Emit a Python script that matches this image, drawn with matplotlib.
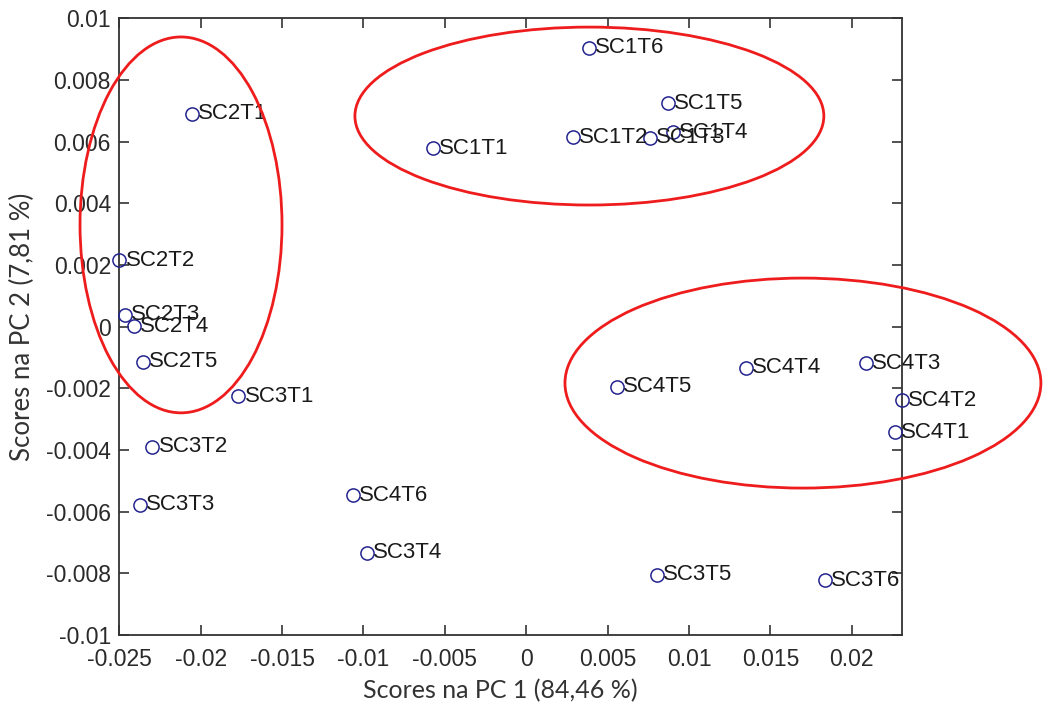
import matplotlib
matplotlib.use("Agg")
import matplotlib.pyplot as plt
from matplotlib.patches import Ellipse

# PCA scores per sample
samples = ["SC1T1", "SC1T2", "SC1T3", "SC1T4", "SC1T5", "SC1T6",
           "SC2T1", "SC2T2", "SC2T3", "SC2T4", "SC2T5",
           "SC3T1", "SC3T2", "SC3T3", "SC3T4", "SC3T5", "SC3T6",
           "SC4T1", "SC4T2", "SC4T3", "SC4T4", "SC4T5", "SC4T6"]
pc1 = [-0.00573, 0.00287, 0.00760, 0.00901, 0.00870, 0.00385,
       -0.02053, -0.02499, -0.02465, -0.02410, -0.02354,
       -0.01769, -0.02297, -0.02373, -0.00979, 0.00803, 0.01835,
       0.02265, 0.02308, 0.02087, 0.01348, 0.00559, -0.01064]
pc2 = [0.00579, 0.00615, 0.00612, 0.00631, 0.00725, 0.00904,
       0.00690, 0.00216, 0.00038, 0.00002, -0.00114,
       -0.00225, -0.00389, -0.00578, -0.00734, -0.00805, -0.00822,
       -0.00342, -0.00238, -0.00118, -0.00134, -0.00195, -0.00546]

# Group outlines: centre x, centre y, width, height (data units)
group_cx = [-0.02121, 0.00388, 0.01700]
group_cy = [0.00330, 0.00683, -0.00183]
group_w = [0.01241, 0.02881, 0.02924]
group_h = [0.01219, 0.00577, 0.00681]

x_ticks = [-0.025, -0.02, -0.015, -0.01, -0.005, 0, 0.005, 0.01, 0.015, 0.02]
x_tick_labels = ["-0.025", "-0.02", "-0.015", "-0.01", "-0.005", "0",
                 "0.005", "0.01", "0.015", "0.02"]
y_ticks = [-0.01, -0.008, -0.006, -0.004, -0.002, 0, 0.002, 0.004, 0.006, 0.008, 0.01]
y_tick_labels = ["-0.01", "-0.008", "-0.006", "-0.004", "-0.002", "0",
                 "0.002", "0.004", "0.006", "0.008", "0.01"]

fig = plt.figure(figsize=(10.43, 7.04), dpi=100)
ax = fig.add_axes([0.1144, 0.098, 0.7503, 0.876])

ax.plot(pc1, pc2, linestyle="none", marker="o", markersize=9.5,
        markerfacecolor="none", markeredgecolor="#24248f", markeredgewidth=1.1,
        clip_on=False, zorder=3)

for name, x, y in zip(samples, pc1, pc2):
    ax.annotate(name, (x, y), xytext=(4.5, 0), textcoords="offset points",
                ha="left", va="center", fontsize=16, color="#1a1a1a",
                family="Liberation Sans", zorder=4, annotation_clip=False)

for cx, cy, w, h in zip(group_cx, group_cy, group_w, group_h):
    ax.add_patch(Ellipse((cx, cy), w, h, fill=False, edgecolor="#ee1c1c",
                         linewidth=2.0, clip_on=False, zorder=5))

ax.set_xlim(min(pc1), max(pc1))
ax.set_ylim(-0.01, 0.01)
ax.set_xticks(x_ticks)
ax.set_xticklabels(x_tick_labels)
ax.set_yticks(y_ticks)
ax.set_yticklabels(y_tick_labels)

ax.tick_params(direction="in", length=7, width=1.2, top=True, right=True,
               labelsize=16.5, labelcolor="#2a2a2a", color="#333333")
ax.tick_params(axis="x", pad=9)
ax.tick_params(axis="y", pad=6)
for lab in ax.get_xticklabels() + ax.get_yticklabels():
    lab.set_family("Liberation Sans")
for sp in ax.spines.values():
    sp.set_color("#333333")
    sp.set_linewidth(1.3)

ax.set_xlabel("Scores na PC 1 (84,46 %)", fontsize=18, family="Lato",
              color="#333333")
ax.xaxis.set_label_coords(0.487, -0.072)
ax.set_ylabel("Scores na PC 2 (7,81 %)", fontsize=18.5, family="Lato",
              color="#333333")
ax.yaxis.set_label_coords(-0.108, 0.5)

fig.savefig("out.png", dpi=100)
